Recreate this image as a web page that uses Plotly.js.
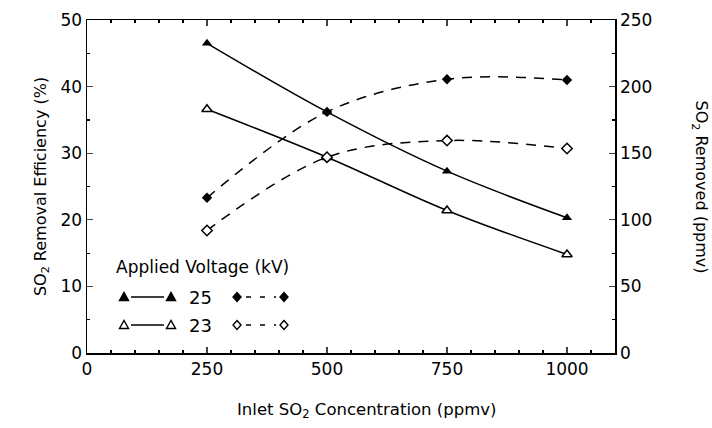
<!DOCTYPE html>
<html><head><meta charset="utf-8">
<script src="https://cdn.plot.ly/plotly-3.0.1.min.js"></script>
<style>html,body{margin:0;padding:0;background:#fff}#chart{width:712px;height:428px}</style>
</head><body><div id="chart"></div>
<script>
const inletConc = [250, 500, 750, 1000];
const eff25 = [46.5, 36.2, 27.3, 20.3];
const eff23 = [36.6, 29.4, 21.4, 14.8];
const removed25 = [116.5, 181, 205.5, 205];
const removed23 = [92, 147, 159.5, 153.5];
const voltages = ['25', '23'];
const xTicks = [0, 250, 500, 750, 1000];
const yTicks = [0, 10, 20, 30, 40, 50];
const y2Ticks = [0, 50, 100, 150, 200, 250];

const F = 'DejaVu Sans, Liberation Sans, sans-serif';
const solid = {color: '#000', width: 1.5, shape: 'spline'};
const dashed = {color: '#000', width: 1.5, dash: '10px,8px', shape: 'spline'};

const traces = [
  {x: inletConc, y: eff25, mode: 'lines+markers', line: solid,
   marker: {symbol: 'triangle-up', size: 9, color: '#000'}, name: voltages[0]},
  {x: inletConc, y: eff23, mode: 'lines+markers', line: solid,
   marker: {symbol: 'triangle-up', size: 9, color: '#fff', line: {color: '#000', width: 1.5}}, name: voltages[1]},
  {x: inletConc, y: removed25, yaxis: 'y2', mode: 'lines+markers', line: dashed,
   marker: {symbol: 'diamond', size: 8, color: '#000'}, name: voltages[0]},
  {x: inletConc, y: removed23, yaxis: 'y2', mode: 'lines+markers', line: dashed,
   marker: {symbol: 'diamond', size: 8, color: '#fff', line: {color: '#000', width: 1.5}}, name: voltages[1]}
];

const W = 712 - 87 - 97, H = 428 - 20 - 75;
const px = v => (v - 87) / W, py = v => (353 - v) / H;
const ann = [];
const shapes = [];
const TRI = 'M -4.5,-3.5 L 4.5,-3.5 L 0,4.5 Z';
const DIA = 'M 0,4.5 L 4,0 L 0,-4.5 L -4,0 Z';
function sym(path, filled, x, y) {
  shapes.push({type: 'path', xref: 'paper', yref: 'paper', xsizemode: 'pixel', ysizemode: 'pixel',
    xanchor: px(x), yanchor: py(y), path: path, fillcolor: filled ? '#000' : '#fff',
    line: {color: '#000', width: 1.4}});
}
ann.push({text: 'Applied Voltage (kV)', xref: 'paper', yref: 'paper', x: px(114), y: py(267),
  showarrow: false, xanchor: 'left', yanchor: 'middle', font: {family: F, size: 17, color: '#000'}});
const rows = [{y: 297, f: true}, {y: 325, f: false}];
rows.forEach((r, i) => {
  sym(TRI, r.f, 124, r.y); sym(TRI, r.f, 171, r.y);
  shapes.push({type: 'line', xref: 'paper', yref: 'paper', x0: px(131), x1: px(164), y0: py(r.y), y1: py(r.y), line: {color: '#000', width: 1.5}});
  ann.push({text: voltages[i], xref: 'paper', yref: 'paper', x: px(187), y: py(r.y), showarrow: false,
    xanchor: 'left', yanchor: 'middle', font: {family: F, size: 18, color: '#000'}});
  sym(DIA, r.f, 237, r.y); sym(DIA, r.f, 284, r.y);
  shapes.push({type: 'line', xref: 'paper', yref: 'paper', x0: px(246), x1: px(276), y0: py(r.y), y1: py(r.y), line: {color: '#000', width: 1.5, dash: '5px,9px'}});
});
ann.push({text: 'SO<sub>2</sub> Removed (ppmv)', xref: 'paper', yref: 'paper', x: px(700), y: 0.5,
  textangle: 90, showarrow: false, xanchor: 'center', yanchor: 'middle', font: {family: F, size: 16, color: '#000'}});
ann.push({text: 'Inlet SO<sub>2</sub> Concentration (ppmv)', xref: 'paper', yref: 'paper', x: px(366), y: py(410),
  showarrow: false, xanchor: 'center', yanchor: 'middle', font: {family: F, size: 16.5, color: '#000'}});

const layout = {
  width: 712, height: 428,
  margin: {l: 87, r: 97, t: 20, b: 75},
  paper_bgcolor: '#fff', plot_bgcolor: '#fff',
  showlegend: false,
  font: {family: F, size: 16, color: '#000'},
  xaxis: {range: [0, 1100], tickvals: xTicks, ticks: 'inside', ticklen: 6, tickwidth: 1.2,
    showline: true, linecolor: '#000', linewidth: 1.5, mirror: 'ticks', showgrid: false, zeroline: false,
    minor: {dtick: 50, ticks: 'inside', ticklen: 3, tickcolor: '#000'},
    tickfont: {family: F, size: 17}},
  yaxis: {range: [0, 50], tickvals: yTicks, ticks: 'inside', ticklen: 6, tickwidth: 1.2,
    showline: true, linecolor: '#000', linewidth: 1.5, showgrid: false, zeroline: false,
    minor: {dtick: 5, ticks: 'inside', ticklen: 3, tickcolor: '#000'},
    tickfont: {family: F, size: 17},
    title: {text: 'SO<sub>2</sub> Removal Efficiency (%)', font: {family: F, size: 16}, standoff: 10}},
  yaxis2: {range: [0, 250], tickvals: y2Ticks, overlaying: 'y', side: 'right', ticks: 'inside', ticklen: 6, tickwidth: 1.2,
    showline: true, linecolor: '#000', linewidth: 1.5, showgrid: false, zeroline: false,
    minor: {dtick: 25, ticks: 'inside', ticklen: 3, tickcolor: '#000'},
    tickfont: {family: F, size: 17}},
  annotations: ann, shapes: shapes
};
Plotly.newPlot('chart', traces, layout, {displayModeBar: false, staticPlot: true});
</script></body></html>
